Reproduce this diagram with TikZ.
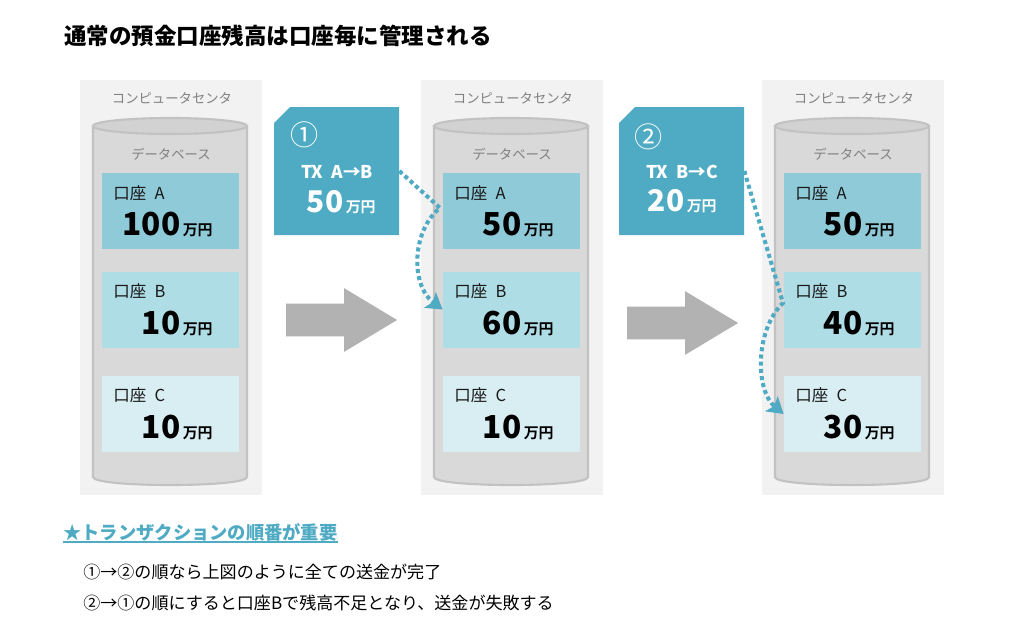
\documentclass[tikz,border=0pt]{standalone}
\usepackage{fontspec}
\setmainfont{Noto Sans CJK JP}
\newfontfamily\heavyfont{Noto Sans CJK JP}[UprightFont={* Black}]
\usetikzlibrary{arrows.meta,shapes.arrows}

\definecolor{panelgray}{HTML}{F2F2F2}
\definecolor{cylgray}{HTML}{D9D9D9}
\definecolor{cyltop}{HTML}{D2D2D2}
\definecolor{cylline}{HTML}{C2C2C2}
\definecolor{acctA}{HTML}{8FCAD8}
\definecolor{acctB}{HTML}{AEDDE6}
\definecolor{acctC}{HTML}{D9EEF3}
\definecolor{txteal}{HTML}{4FABC3}
\definecolor{arrowgray}{HTML}{B2B2B2}
\definecolor{capgray}{HTML}{808080}

\newcommand{\manyen}{{\bfseries\fontsize{8.5pt}{9pt}\selectfont\,万円}}

\begin{document}
\begin{tikzpicture}[x=0.2mm,y=-0.2mm]

    \tikzstyle{panel} = [fill=panelgray, rectangle, minimum width=36.4mm, minimum height=83mm, inner sep=0]
    \tikzstyle{caption} = [text=capgray, font=\fontsize{7.6pt}{8pt}\selectfont, inner sep=0]
    \tikzstyle{cylbody} = [fill=cylgray, draw=cylline, line width=1.2pt]
    \tikzstyle{cylcap} = [fill=cyltop, draw=cylline, line width=1.2pt]
    \tikzstyle{acct} = [rectangle, minimum width=27.4mm, minimum height=15.2mm, inner sep=0]
    \tikzstyle{lbl} = [anchor=west, inner sep=0, text=black!90, font=\fontsize{9.4pt}{10pt}\selectfont]
    \tikzstyle{num} = [anchor=base east, inner sep=0, text=black, font=\heavyfont\fontsize{18pt}{18pt}\selectfont]
    \tikzstyle{txbox} = [rectangle, minimum width=25mm, minimum height=25.6mm, inner sep=0]
    \tikzstyle{txtext} = [text=white, inner sep=0]
    \tikzstyle{bigarrow} = [single arrow, fill=arrowgray, minimum height=22.2mm, inner xsep=0, inner ysep=3.2mm, single arrow head extend=3.1mm, single arrow tip angle=62]
    \tikzstyle{flow} = [draw=txteal, line width=2.3pt, dash pattern=on 2.3pt off 1.8pt, -{Stealth[length=9pt, width=11pt, inset=2pt]}]

    \useasboundingbox[fill=white] (0,0) rectangle (1024,640);

    \node[anchor=west, inner sep=0, font=\bfseries\fontsize{12.8pt}{13pt}\selectfont] (title) at (64,36) {通常の預金口座残高は口座毎に管理される};

    % computer center 1
    \node[panel] (p1) at (171,287.5) {};
    \node[caption] (p1t) at (172,98) {コンピュータセンタ};
    \filldraw[cylbody] (93,126) -- (93,477) .. controls (93,487.7) and (247,487.7) .. (247,477) -- (247,126) -- cycle;
    \filldraw[cylcap] (170,126) ellipse [x radius=15.4mm, y radius=1.6mm];
    \node[caption] (d1t) at (171,154) {データベース};
    \node[acct, fill=acctA] (a1A) at (170.5,211) {};
    \node[lbl] (l1A) at (113,193) {口座\enspace A};
    \node[num] (n1A) at (213,235) {100\manyen};
    \node[acct, fill=acctB] (a1B) at (170.5,309.5) {};
    \node[lbl] (l1B) at (113,291) {口座\enspace B};
    \node[num] (n1B) at (213,334) {10\manyen};
    \node[acct, fill=acctC] (a1C) at (170.5,414) {};
    \node[lbl] (l1C) at (113,395) {口座\enspace C};
    \node[num] (n1C) at (213,438) {10\manyen};

    % computer center 2
    \node[panel] (p2) at (512,287.5) {};
    \node[caption] (p2t) at (513,98) {コンピュータセンタ};
    \filldraw[cylbody] (434,126) -- (434,477) .. controls (434,487.7) and (588,487.7) .. (588,477) -- (588,126) -- cycle;
    \filldraw[cylcap] (511,126) ellipse [x radius=15.4mm, y radius=1.6mm];
    \node[caption] (d2t) at (512,154) {データベース};
    \node[acct, fill=acctA] (a2A) at (511.5,211) {};
    \node[lbl] (l2A) at (454,193) {口座\enspace A};
    \node[num] (n2A) at (554,235) {50\manyen};
    \node[acct, fill=acctB] (a2B) at (511.5,309.5) {};
    \node[lbl] (l2B) at (454,291) {口座\enspace B};
    \node[num] (n2B) at (554,334) {60\manyen};
    \node[acct, fill=acctC] (a2C) at (511.5,414) {};
    \node[lbl] (l2C) at (454,395) {口座\enspace C};
    \node[num] (n2C) at (554,438) {10\manyen};

    % computer center 3
    \node[panel] (p3) at (853,287.5) {};
    \node[caption] (p3t) at (854,98) {コンピュータセンタ};
    \filldraw[cylbody] (775,126) -- (775,477) .. controls (775,487.7) and (929,487.7) .. (929,477) -- (929,126) -- cycle;
    \filldraw[cylcap] (852,126) ellipse [x radius=15.4mm, y radius=1.6mm];
    \node[caption] (d3t) at (853,154) {データベース};
    \node[acct, fill=acctA] (a3A) at (852.5,211) {};
    \node[lbl] (l3A) at (795,193) {口座\enspace A};
    \node[num] (n3A) at (895,235) {50\manyen};
    \node[acct, fill=acctB] (a3B) at (852.5,309.5) {};
    \node[lbl] (l3B) at (795,291) {口座\enspace B};
    \node[num] (n3B) at (895,334) {40\manyen};
    \node[acct, fill=acctC] (a3C) at (852.5,414) {};
    \node[lbl] (l3C) at (795,395) {口座\enspace C};
    \node[num] (n3C) at (895,438) {30\manyen};

    % transactions
    \fill[txteal] (274,123) -- (290,107) -- (399,107) -- (399,235) -- (274,235) -- cycle;
    \node[txbox] (tx1) at (336.5,171) {};
    \node[txtext, font=\fontsize{16pt}{16pt}\selectfont] (tx1n) at (305,135) {①};
    \node[txtext, font=\bfseries\fontsize{10pt}{10pt}\selectfont] (tx1t) at (337,172) {TX~~A→B};
    \node[txtext, anchor=base east, font=\heavyfont\fontsize{17pt}{17pt}\selectfont] (tx1v) at (376,212) {50\manyen};

    \fill[txteal] (619,123) -- (635,107) -- (744,107) -- (744,235) -- (619,235) -- cycle;
    \node[txbox] (tx2) at (681.5,171) {};
    \node[txtext, font=\fontsize{16pt}{16pt}\selectfont] (tx2n) at (649,137) {②};
    \node[txtext, font=\bfseries\fontsize{10pt}{10pt}\selectfont] (tx2t) at (682,172) {TX~~B→C};
    \node[txtext, anchor=base east, font=\heavyfont\fontsize{17pt}{17pt}\selectfont] (tx2v) at (717,211) {20\manyen};

    \node[bigarrow] (ar1) at (328,320) {};
    \node[bigarrow] (ar2) at (669,323) {};

    \draw[flow] (tx1.east) -- (440,208) .. controls (412,230) and (410,285) .. (a2B.west);
    \draw[flow] (tx2.east) -- (783,303) .. controls (755,330) and (755,390) .. (a3C.west);

    % notes
    \node[anchor=west, inner sep=0, text=txteal, font=\bfseries\fontsize{10.4pt}{11pt}\selectfont] (note) at (63,532) {★トランザクションの順番が重要};
    \fill[txteal] (63,541) rectangle (338,543);
    \node[anchor=west, inner sep=0, font=\fontsize{9.7pt}{10pt}\selectfont] (note1) at (83,572) {①→②の順なら上図のように全ての送金が完了};
    \node[anchor=west, inner sep=0, font=\fontsize{9.7pt}{10pt}\selectfont] (note2) at (83,603) {②→①の順にすると口座Bで残高不足となり、送金が失敗する};
\end{tikzpicture}
\end{document}
